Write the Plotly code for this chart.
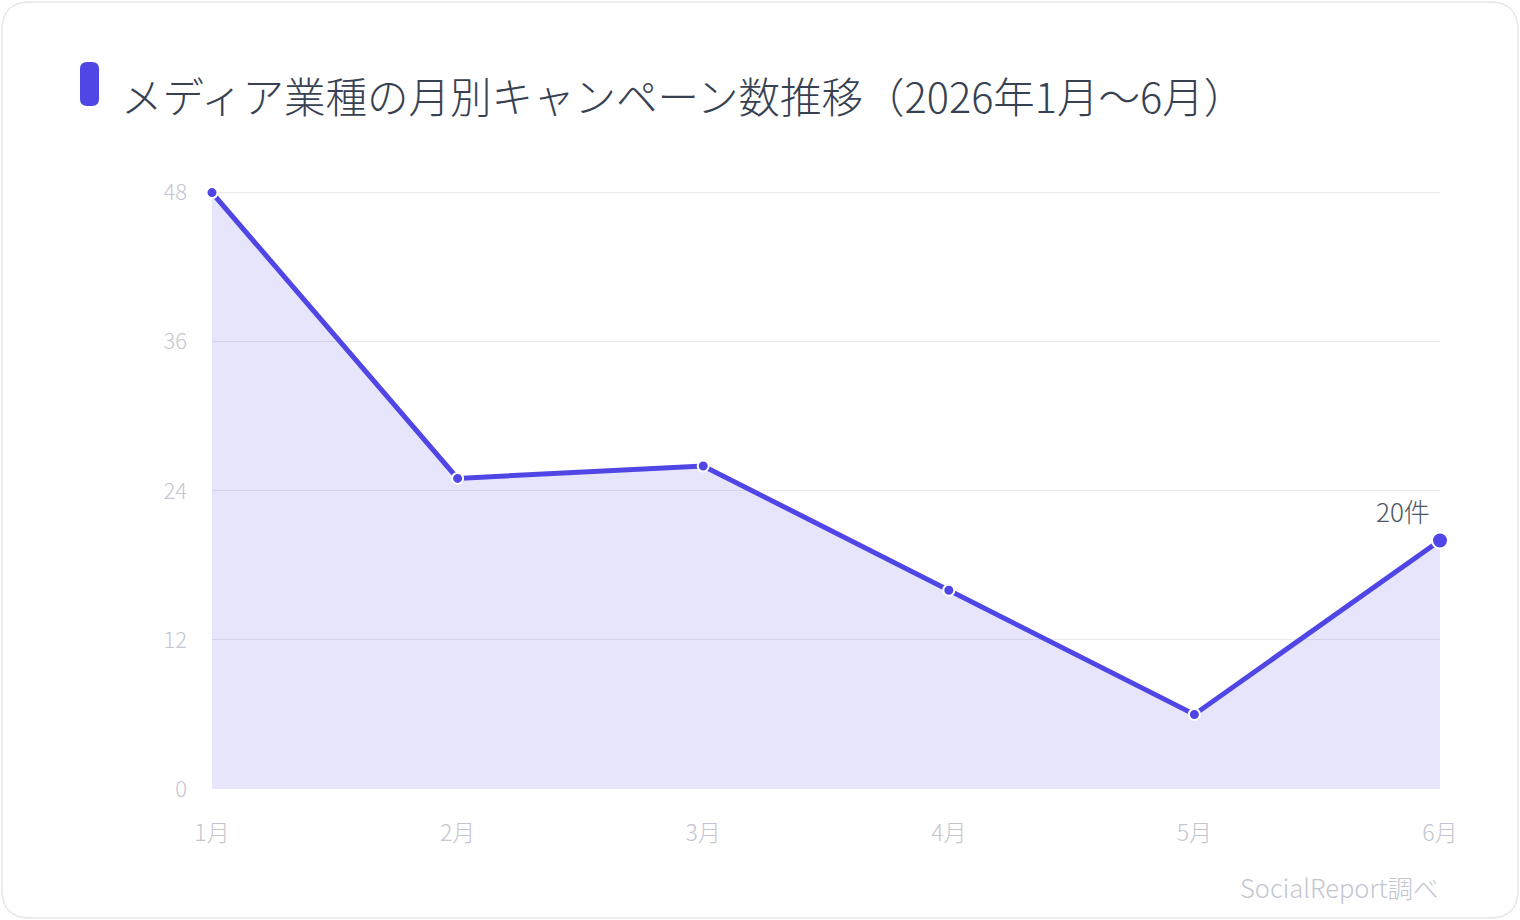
import plotly.graph_objects as go

# データ
months = ["1月", "2月", "3月", "4月", "5月", "6月"]
campaigns = [48, 25, 26, 16, 6, 20]
y_ticks = [0, 12, 24, 36, 48]

W, H = 1520, 920
L, R, T, B = 212, 80, 192, 131
PW, PH = W - L - R, H - T - B

FONT = "Noto Sans CJK JP Light, Noto Sans CJK JP"
ACCENT = "#4f46e5"
GRID = "#e9e9ef"


def px(x):
    return (x - L) / PW


def py(y):
    return (H - B - y) / PH


def rounded_rect(x0, y0, x1, y1, r):
    # 画面ピクセル座標 -> paper 座標の角丸パス
    pts = [
        ("M", [(x0 + r, y0)]),
        ("L", [(x1 - r, y0)]),
        ("Q", [(x1, y0), (x1, y0 + r)]),
        ("L", [(x1, y1 - r)]),
        ("Q", [(x1, y1), (x1 - r, y1)]),
        ("L", [(x0 + r, y1)]),
        ("Q", [(x0, y1), (x0, y1 - r)]),
        ("L", [(x0, y0 + r)]),
        ("Q", [(x0, y0), (x0 + r, y0)]),
    ]
    out = ""
    for cmd, ps in pts:
        out += cmd + " " + " ".join(f"{px(a):.5f},{py(b):.5f}" for a, b in ps) + " "
    return out + "Z"


fig = go.Figure()

fig.add_trace(go.Scatter(
    x=months,
    y=campaigns,
    mode="lines+markers",
    fill="tozeroy",
    fillcolor="rgba(79,70,229,0.14)",
    line=dict(color=ACCENT, width=5),
    marker=dict(
        size=[11] * (len(months) - 1) + [16],
        color=ACCENT,
        opacity=1,
        line=dict(color="white", width=2),
    ),
    hoverinfo="x+y",
    cliponaxis=False,
))

fig.add_annotation(
    x=months[-1], y=campaigns[-1],
    text=f"{campaigns[-1]}件",
    showarrow=False,
    xanchor="right", yanchor="bottom",
    xshift=-8, yshift=10,
    font=dict(family=FONT, size=26, color="#4b5563", weight=200),
)

# タイトル
fig.add_annotation(
    x=px(119), y=py(95), xref="paper", yref="paper",
    text="メディア業種の月別キャンペーン数推移（2026年1月〜6月）",
    showarrow=False, xanchor="left", yanchor="middle",
    font=dict(family=FONT, size=41.5, color="#374151", weight=200),
)

# 出典
fig.add_annotation(
    x=px(1441), y=py(886), xref="paper", yref="paper",
    text="SocialReport調べ",
    showarrow=False, xanchor="right", yanchor="middle",
    font=dict(family=FONT, size=25.5, color="#c3c6d1", weight=200),
)

fig.update_layout(
    width=W, height=H,
    margin=dict(l=L, r=R, t=T, b=B),
    paper_bgcolor="white",
    plot_bgcolor="white",
    showlegend=False,
    shapes=[
        dict(type="path", xref="paper", yref="paper",
             path=rounded_rect(2, 2, 1518, 918, 28),
             line=dict(color="#e6e7ee", width=1.5), layer="below"),
        dict(type="path", xref="paper", yref="paper",
             path=rounded_rect(80, 62, 99, 106, 7),
             fillcolor=ACCENT, line=dict(width=0)),
        # 上端のグリッド線
        dict(type="line", xref="paper", yref="y",
             x0=0, x1=1, y0=y_ticks[-1], y1=y_ticks[-1],
             line=dict(color=GRID, width=1.2), layer="below"),
    ],
    xaxis=dict(
        showgrid=False, zeroline=False, showline=False,
        ticks="", ticklabelstandoff=28,
        tickfont=dict(family=FONT, size=23, color="#c3c6d1", weight=200),
        range=[0, len(months) - 1],
    ),
    yaxis=dict(
        range=[0, 48.05],
        tickvals=y_ticks,
        showgrid=True, gridcolor=GRID, gridwidth=1,
        zeroline=False, showline=False,
        ticks="", ticklabelstandoff=24,
        tickfont=dict(family=FONT, size=22, color="#c3c6d1", weight=200),
    ),
)

fig.write_html(
    "out.html",
    config={"displayModeBar": False},
    post_script="document.body.style.margin='0';document.body.style.overflow='hidden';",
)
